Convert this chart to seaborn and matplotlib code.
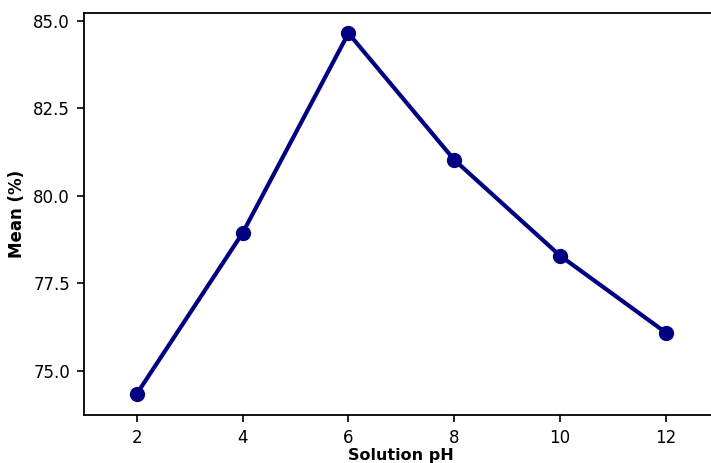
import matplotlib
matplotlib.use("Agg")
import matplotlib.pyplot as plt
import seaborn as sns
import pandas as pd

ph = [2, 4, 6, 8, 10, 12]
mean_pct = [74.34, 78.94, 84.65, 81.03, 78.29, 76.09]

df = pd.DataFrame({"Solution pH": ph, "Mean (%)": mean_pct})

sns.set_style("ticks")
plt.rcParams['font.family'] = ['DejaVu Sans']
plt.rcParams['text.color'] = 'black'
plt.rcParams['axes.labelcolor'] = 'black'
plt.rcParams['xtick.color'] = 'black'
plt.rcParams['ytick.color'] = 'black'

fig = plt.figure(figsize=(7.11, 4.63), dpi=100)
ax = fig.add_axes([0.118, 0.104, 0.893, 0.868])

sns.lineplot(data=df, x="Solution pH", y="Mean (%)", color="#000080",
             linewidth=3, marker="o", markersize=11, markeredgewidth=0, ax=ax)

ax.set_xlim(1, 13)
ax.set_ylim(73.74, 85.23)
ax.set_xticks(ph)
ax.set_yticks([75.0, 77.5, 80.0, 82.5, 85.0])
ax.set_yticklabels(["75.0", "77.5", "80.0", "82.5", "85.0"])
ax.tick_params(labelsize=12, length=5, width=1.2, pad=5)
ax.set_xlabel("Solution pH", fontsize=11.5, fontweight="bold", labelpad=1)
ax.set_ylabel("Mean (%)", fontsize=12, fontweight="bold", labelpad=5)
for s in ax.spines.values():
    s.set_linewidth(1.3)
    s.set_color("black")

fig.savefig("out.png", dpi=100)
